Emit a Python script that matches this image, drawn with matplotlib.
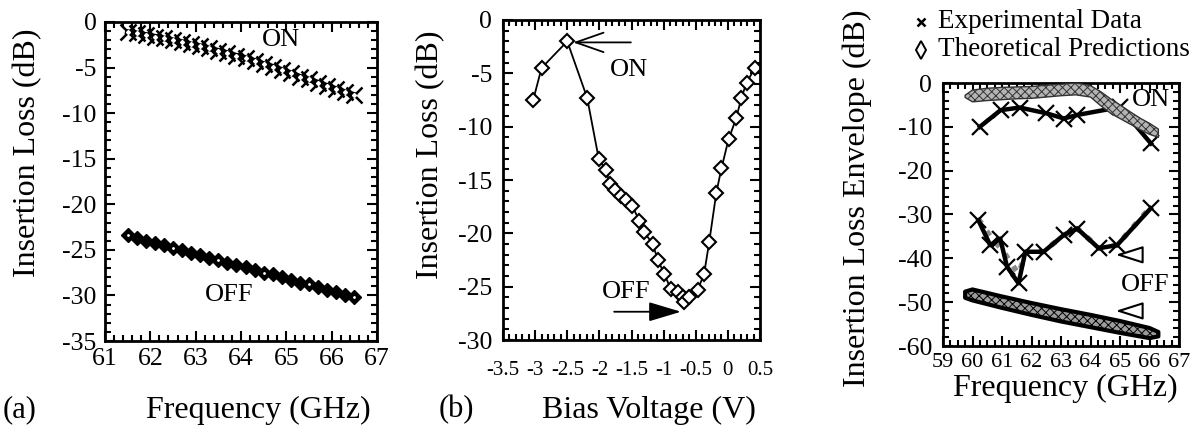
import matplotlib.pyplot as plt
from matplotlib.lines import Line2D
from matplotlib.ticker import MultipleLocator

plt.rcParams["font.family"] = ["Liberation Serif", "DejaVu Serif"]
plt.rcParams["axes.unicode_minus"] = False
plt.rcParams["hatch.linewidth"] = 0.7

# (a) insertion loss vs frequency
freq_a = [61.5, 61.7, 61.9, 62.1, 62.3, 62.5, 62.7, 62.9, 63.1, 63.3, 63.5, 63.7, 63.9,
          64.1, 64.3, 64.5, 64.7, 64.9, 65.1, 65.3, 65.5, 65.7, 65.9, 66.1, 66.3, 66.5]
on_a = [-1.1, -1.25, -1.4, -1.6, -1.8, -2.0, -2.2, -2.45, -2.65, -2.9, -3.15, -3.4, -3.7,
        -3.95, -4.25, -4.6, -4.9, -5.25, -5.6, -6.0, -6.3, -6.65, -7.0, -7.35, -7.7, -8.0]
off_a = [-23.4, -23.7, -24.0, -24.2, -24.5, -24.8, -25.0, -25.3, -25.6, -25.9, -26.1, -26.4, -26.7,
         -26.9, -27.2, -27.5, -27.7, -28.0, -28.3, -28.6, -28.8, -29.1, -29.4, -29.6, -29.9, -30.2]

# (b) insertion loss vs bias voltage
bias_b = [-3.03, -2.9, -2.5, -2.19, -2.01, -1.9, -1.83, -1.75, -1.67, -1.59, -1.49, -1.38,
          -1.3, -1.17, -1.09, -0.99, -0.89, -0.78, -0.7, -0.68, -0.6, -0.47, -0.37, -0.29,
          -0.18, -0.1, 0.01, 0.13, 0.21, 0.29, 0.42]
loss_b = [-7.5, -4.5, -2.0, -7.3, -13.0, -14.1, -15.4, -15.9, -16.5, -16.9, -17.4, -18.8,
          -19.9, -21.0, -22.5, -23.8, -25.2, -25.5, -26.0, -26.4, -26.0, -25.3, -23.8, -20.8,
          -16.2, -13.9, -11.2, -9.2, -7.3, -5.9, -4.5]
bias_ticks = [-3.5, -3, -2.5, -2, -1.5, -1, -0.5, 0, 0.5]
bias_labels = ["-3.5", "-3", "-2.5", "-2", "-1.5", "-1", "-0.5", "0", "0.5"]

# (c) envelope: experimental crosses and theoretical bands
exp_on_f = [60.25, 60.95, 61.6, 62.5, 63.1, 63.55, 65.0, 66.05]
exp_on_db = [-10.0, -6.2, -5.6, -6.9, -8.1, -7.3, -5.5, -13.8]
exp_off_f = [60.2, 60.6, 60.94, 61.17, 61.56, 61.79, 62.41, 63.09, 63.55, 64.28, 64.9, 66.04]
exp_off_db = [-31.3, -37.0, -35.5, -41.9, -45.7, -38.5, -38.5, -34.7, -33.2, -37.7, -37.0, -28.6]
theo_off_f = [60.2, 60.6, 61.0, 61.3, 61.55, 61.7, 61.85, 62.4, 63.1, 63.55, 64.3, 64.9, 66.0]
theo_off_db = [-31, -35, -38, -41, -43.5, -41, -38.5, -38.5, -34.7, -33.2, -37.7, -37, -28.6]
band_on_f = [59.75, 60.0, 60.5, 61.0, 61.5, 62.0, 62.5, 63.0, 63.5, 64.0, 64.35, 64.7,
             65.0, 65.35, 65.7, 66.0, 66.3]
band_on_hi = [-2.8, -1.6, -1.2, -1.0, -0.9, -0.8, -0.5, -0.3, 0.0, -0.6, -2.0, -3.7,
              -5.0, -6.6, -8.1, -9.2, -10.5]
band_on_lo = [-3.3, -4.3, -4.0, -3.8, -3.6, -3.5, -3.2, -2.9, -2.7, -3.2, -5.2, -7.0,
              -8.1, -9.4, -10.7, -11.7, -12.4]
band_off_f = [59.75, 60.0, 61.0, 62.0, 63.0, 64.0, 65.0, 66.0, 66.3]
band_off_hi = [-47.6, -47.1, -48.7, -50.2, -51.6, -52.9, -54.3, -55.9, -56.8]
band_off_lo = [-49.0, -49.6, -51.3, -52.9, -54.4, -55.7, -57.0, -58.2, -57.8]

W, H = 1197, 436
fig = plt.figure(figsize=(W / 100, H / 100), dpi=100)


def px_axes(left, top, right, bottom):
    return fig.add_axes([left / W, 1 - bottom / H, (right - left) / W, (bottom - top) / H])


def style(ax, xpad, ypad, xsize=18.5):
    for s in ax.spines.values():
        s.set_linewidth(2.0)
    ax.tick_params(which="both", direction="in", top=True, right=True, width=1.5,
                   labelsize=18.5, colors="black")
    ax.tick_params(which="major", length=7.5)
    ax.tick_params(which="minor", length=4)
    ax.tick_params(axis="x", pad=xpad, labelsize=xsize)
    ax.tick_params(axis="y", pad=ypad)


# panel (a)
ax1 = px_axes(105, 22, 377, 341)
ax1.plot(freq_a, on_a, color="black", lw=4, marker="x", ms=11, mew=1.8)
ax1.plot(freq_a, on_a, ls="none", marker="D", ms=2, mfc="white", mec="white")
ax1.plot(freq_a, off_a, color="black", lw=3, marker="D", ms=7, mfc="black", mec="black")
ax1.plot(freq_a[::5], off_a[::5], ls="none", marker="o", ms=1, mfc="white", mec="white")
ax1.set_xlim(61, 67)
ax1.set_ylim(-35, 0)
ax1.xaxis.set_major_locator(MultipleLocator(1))
ax1.xaxis.set_minor_locator(MultipleLocator(0.2))
ax1.yaxis.set_major_locator(MultipleLocator(5))
ax1.yaxis.set_minor_locator(MultipleLocator(1))
style(ax1, 5, 6)
ax1.text(64.88, -2.0, "ON", fontsize=19, ha="center", va="center")
ax1.text(63.74, -29.9, "OFF", fontsize=19, ha="center", va="center")

# panel (b)
ax2 = px_axes(503, 20, 760, 340)
ax2.plot(bias_b, loss_b, color="black", lw=1.3, marker="D", ms=7, mfc="white", mec="black", mew=1.5)
ax2.set_xlim(-3.5, 0.5)
ax2.set_ylim(-30, 0)
ax2.set_xticks(bias_ticks, bias_labels)
ax2.xaxis.set_minor_locator(MultipleLocator(0.1))
ax2.yaxis.set_major_locator(MultipleLocator(5))
ax2.yaxis.set_minor_locator(MultipleLocator(1))
style(ax2, 15, 8, xsize=15)
ax2.annotate("", xy=(-2.41, -2.1), xytext=(-1.51, -2.1),
             arrowprops=dict(arrowstyle="->,head_length=1.0,head_width=0.35", lw=1.3,
                             color="black", shrinkA=0, shrinkB=0, mutation_scale=20))
ax2.annotate("", xy=(-0.73, -27.35), xytext=(-1.77, -27.35),
             arrowprops=dict(arrowstyle="-|>,head_length=1.0,head_width=0.3", lw=1.3,
                             color="black", shrinkA=0, shrinkB=0, mutation_scale=20))
ax2.text(-1.54, -4.66, "ON", fontsize=19, ha="center", va="center")
ax2.text(-1.59, -25.5, "OFF", fontsize=19, ha="center", va="center")

# panel (c)
ax3 = px_axes(943, 83, 1179, 346)
ax3.fill_between(band_off_f, band_off_hi, band_off_lo, facecolor="#9c9c9c", edgecolor="black",
                 hatch="xxxx", lw=3, zorder=2)
ax3.plot(theo_off_f, theo_off_db, color="#8a8a8a", lw=4, ls=":", zorder=3)
ax3.plot(exp_off_f, exp_off_db, color="black", lw=3.2, marker="x", ms=12, mew=1.6, zorder=4)
ax3.plot(exp_on_f, exp_on_db, color="black", lw=3.2, marker="x", ms=12, mew=1.6, zorder=3)
ax3.fill_between(band_on_f, band_on_hi, band_on_lo, facecolor="#b4b4b4", edgecolor="#333333",
                 hatch="xxxx", lw=1.0, zorder=4)
ax3.set_xlim(59, 67)
ax3.set_ylim(-60, 0)
ax3.xaxis.set_major_locator(MultipleLocator(1))
ax3.xaxis.set_minor_locator(MultipleLocator(0.25))
ax3.yaxis.set_major_locator(MultipleLocator(10))
ax3.yaxis.set_minor_locator(MultipleLocator(2))
style(ax3, 5, 8, xsize=16)
arrow_c = dict(arrowstyle="-|>,head_length=0.85,head_width=0.27", lw=1.5, ec="black",
               fc="white", shrinkA=0, shrinkB=0, mutation_scale=20)
ax3.annotate("", xy=(64.85, -39.2), xytext=(65.75, -39.2), arrowprops=arrow_c)
ax3.annotate("", xy=(64.85, -52.0), xytext=(65.75, -52.0), arrowprops=arrow_c)
ax3.text(66.04, -3.9, "ON", fontsize=19, ha="center", va="center", zorder=6)
ax3.text(65.87, -46.1, "OFF", fontsize=19, ha="center", va="center")

# axis labels and panel tags
fig.text(258 / W, 1 - 410 / H, "Frequency (GHz)", fontsize=23, ha="center", va="center")
fig.text(28 / W, 1 - 153 / H, "Insertion Loss (dB)", fontsize=23, ha="center", va="center", rotation=90)
fig.text(649 / W, 1 - 410 / H, "Bias Voltage (V)", fontsize=23, ha="center", va="center")
fig.text(431 / W, 1 - 155 / H, "Insertion Loss (dB)", fontsize=23, ha="center", va="center", rotation=90)
fig.text(1065 / W, 1 - 388 / H, "Frequency (GHz)", fontsize=23, ha="center", va="center")
fig.text(857 / W, 1 - 198 / H, "Insertion Loss Envelope (dB)", fontsize=23, ha="center",
         va="center", rotation=90)
fig.text(20 / W, 1 - 410 / H, "(a)", fontsize=22, ha="center", va="center")
fig.text(456 / W, 1 - 410 / H, "(b)", fontsize=22, ha="center", va="center")

# legend above panel (c)
fig.add_artist(Line2D([921 / W], [1 - 22 / H], transform=fig.transFigure, ls="none",
                      marker="x", ms=6, mew=1.8, color="black"))
fig.add_artist(Line2D([921 / W], [1 - 50 / H], transform=fig.transFigure, ls="none",
                      marker="d", ms=9, mew=1.4, mfc="white", mec="black"))
fig.text(938 / W, 1 - 22 / H, "Experimental Data", fontsize=19.5, ha="left", va="center")
fig.text(938 / W, 1 - 50 / H, "Theoretical Predictions", fontsize=19.5, ha="left", va="center")

fig.savefig("out.png", dpi=100)
